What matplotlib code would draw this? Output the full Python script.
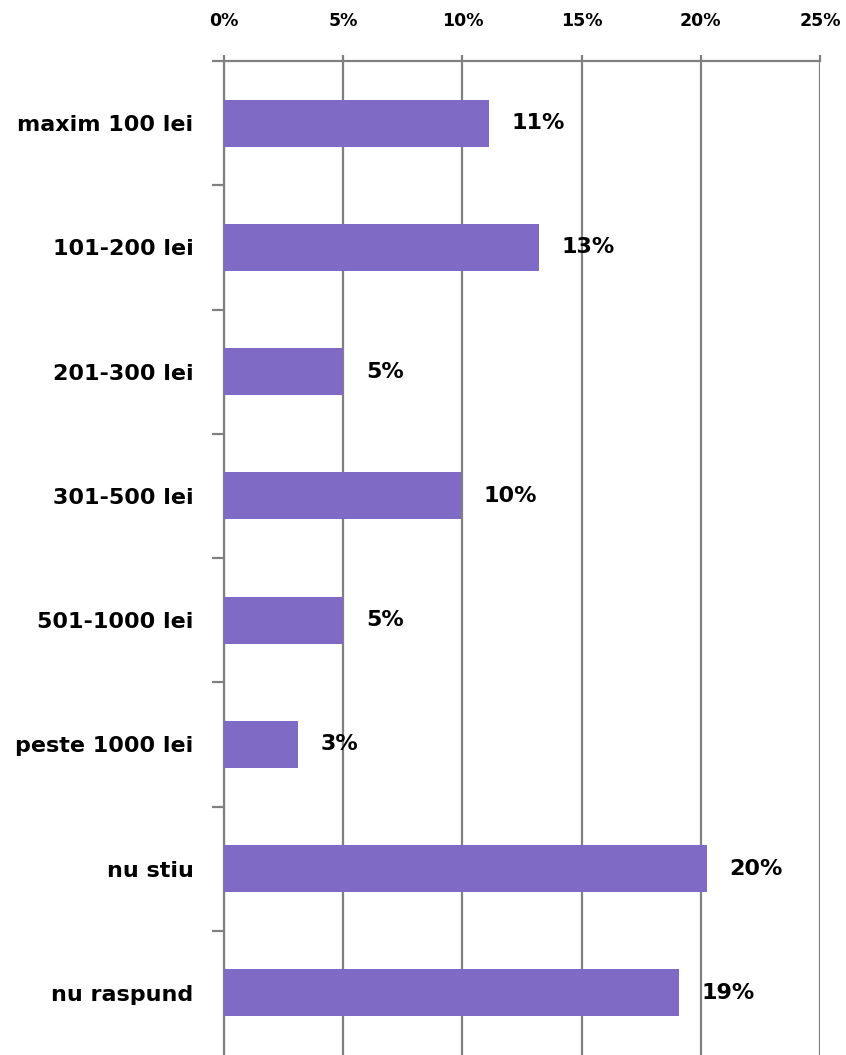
import numpy as np
import matplotlib.pyplot as plt

categories = ['maxim 100 lei', '101-200 lei', '201-300 lei', '301-500 lei',
              '501-1000 lei', 'peste 1000 lei', 'nu stiu', 'nu raspund']
values = [11.1, 13.2, 5.0, 9.95, 5.0, 3.1, 20.25, 19.1]
labels = ['11%', '13%', '5%', '10%', '5%', '3%', '20%', '19%']
xticks = [0, 5, 10, 15, 20, 25]

grey = '#808080'
bar_color = '#7F6BC6'

fig = plt.figure(figsize=(8.46, 10.55), dpi=100)
ax = fig.add_axes([224/846, 0.0, 596/846, 1 - 61/1055])

y = np.arange(len(categories))
ax.barh(y, values, height=0.38, color=bar_color, zorder=3)

for yi, v, lab in zip(y, values, labels):
    ax.text(v + 0.95, yi, lab, va='center', ha='left', fontsize=16,
            fontweight='bold', color='black', zorder=4)

ax.set_xlim(0, 25)
ax.set_ylim(len(categories) - 0.5, -0.5)

ax.xaxis.tick_top()
ax.set_xticks(xticks)
ax.set_xticklabels([f'{t}%' for t in xticks], fontsize=12.5, fontweight='bold')
ax.tick_params(axis='x', length=4.5, width=1.6, color=grey, pad=18)
ax.grid(axis='x', color=grey, linewidth=1.6, zorder=0)

ax.set_yticks(y)
ax.set_yticklabels(categories, fontsize=16, fontweight='bold')
ax.set_yticks(np.arange(-0.5, len(categories) - 0.5, 1.0), minor=True)
ax.tick_params(axis='y', which='major', length=0, pad=22)
ax.tick_params(axis='y', which='minor', length=9, width=1.6, color=grey)

for s in ['right', 'bottom']:
    ax.spines[s].set_visible(False)
for s in ['left', 'top']:
    ax.spines[s].set_color(grey)
    ax.spines[s].set_linewidth(1.6)

fig.savefig('out.png', dpi=100)
